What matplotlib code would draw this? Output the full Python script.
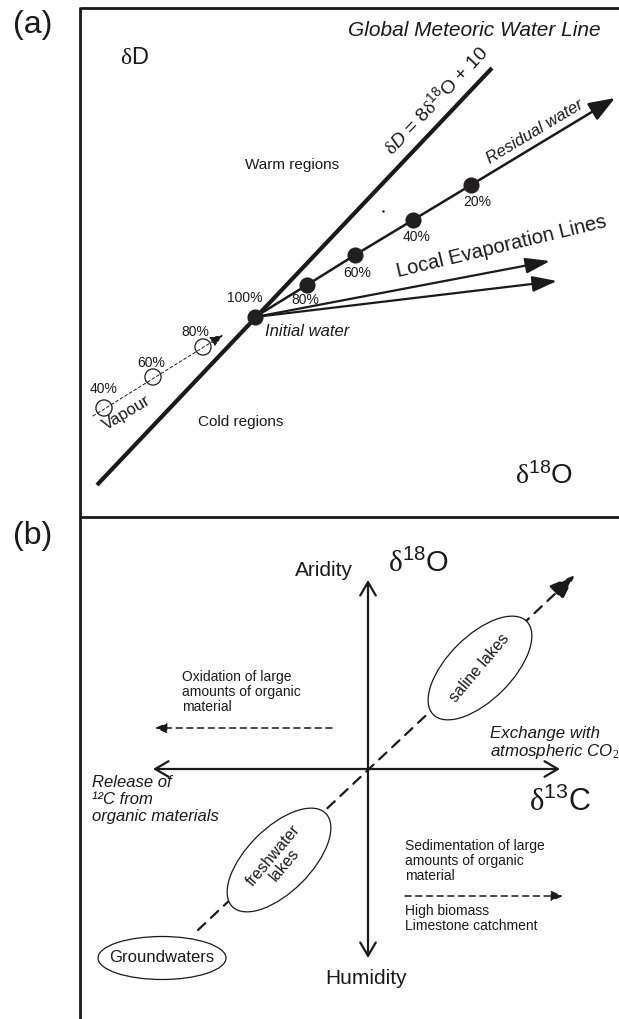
import matplotlib
matplotlib.use("Agg")
import matplotlib.pyplot as plt
from matplotlib.patches import Ellipse

plt.rcParams['font.family'] = ['Liberation Sans', 'DejaVu Sans']
plt.rcParams['mathtext.fontset'] = 'custom'
plt.rcParams['mathtext.rm'] = 'Liberation Serif'
plt.rcParams['mathtext.sf'] = 'Liberation Sans'
plt.rcParams['mathtext.it'] = 'Liberation Sans:italic'
plt.rcParams['mathtext.bf'] = 'Liberation Sans:bold'

# ---------------- Panel (a) data (schematic coordinates) ----------------
gmwl_x = [97, 492]
gmwl_y = [485, 68]
residual_x = [255, 307, 355, 413, 471]
residual_y = [317, 285, 255, 220, 185]
residual_labels = ['100%', '80%', '60%', '40%', '20%']
residual_tip = [615, 98]
evap_tips_x = [550, 557]
evap_tips_y = [261, 281]
vapour_x = [203, 153, 104]
vapour_y = [347, 377, 408]
vapour_labels = ['80%', '60%', '40%']
vapour_start = [93, 416]
vapour_tip = [223, 335]

# ---------------- Panel (b) data ----------------
center_b = [368, 769]
vert_ends = [580, 958]
horiz_ends = [153, 560]
diag_start = [198, 930]
diag_tip = [575, 575]

INK = '#1a1a1a'
DOT = '#231f20'

fig = plt.figure(figsize=(6.19, 10.19), dpi=100)
ax = fig.add_axes([0, 0, 1, 1])
ax.set_xlim(0, 619)
ax.set_ylim(1019, 0)
ax.axis('off')

# frame lines
ax.plot([80, 80], [7, 1019], color=INK, lw=2.0, solid_capstyle='butt')
ax.plot([80, 619], [7.5, 7.5], color=INK, lw=2.0, solid_capstyle='butt')
ax.plot([80, 619], [517, 517], color=INK, lw=2.0, solid_capstyle='butt')

ax.text(33, 25, '(a)', fontsize=23, ha='center', va='center', color=INK)
ax.text(33, 536, '(b)', fontsize=23, ha='center', va='center', color=INK)

# ---- panel (a) ----
ax.plot(gmwl_x, gmwl_y, color=INK, lw=3.0, solid_capstyle='butt', zorder=3)

ax.plot(residual_x, residual_y, color=INK, lw=1.8, zorder=3)
ax.annotate('', xy=residual_tip, xytext=(residual_x[-1], residual_y[-1]),
            arrowprops=dict(arrowstyle='-|>,head_length=0.8,head_width=0.3',
                            mutation_scale=20, lw=1.8, color=INK,
                            shrinkA=0, shrinkB=0), zorder=3)
for tx, ty in zip(evap_tips_x, evap_tips_y):
    ax.annotate('', xy=(tx, ty), xytext=(residual_x[0], residual_y[0]),
                arrowprops=dict(arrowstyle='-|>,head_length=0.75,head_width=0.24',
                                mutation_scale=20, lw=1.6, color=INK,
                                shrinkA=0, shrinkB=0), zorder=3)
ax.scatter(residual_x, residual_y, s=135, color=DOT, zorder=5, linewidths=0)

res_label_pos = [(245, 298), (305, 300), (357, 273), (417, 237), (477, 202)]
for lab, (lx, ly) in zip(residual_labels, res_label_pos):
    ax.text(lx, ly, lab, fontsize=10, ha='center', va='center', color=INK, zorder=6)

# vapour
ax.annotate('', xy=vapour_tip, xytext=vapour_start,
            arrowprops=dict(arrowstyle='-|>,head_length=0.5,head_width=0.2',
                            mutation_scale=16, lw=0.7, color=INK, linestyle=(0, (3, 2.5)),
                            shrinkA=0, shrinkB=0))
ax.scatter(vapour_x, vapour_y, s=135, facecolors='none', edgecolors=INK,
           linewidths=0.9, zorder=4)
vap_label_pos = [(195, 332), (151, 363), (104, 389)]
for lab, (lx, ly) in zip(vapour_labels, vap_label_pos):
    ax.text(lx, ly, lab, fontsize=10, ha='center', va='center', color=INK)

ax.text(135, 58, r'$\mathrm{\delta}$D', fontsize=17, ha='center', va='center', color=INK)
ax.text(474, 30, 'Global Meteoric Water Line', fontsize=15, style='italic',
        ha='center', va='center', color=INK)
ax.text(436, 100, r'$\mathrm{\delta}\mathit{D}$ = 8$\mathrm{\delta}^{\mathsf{18}}$O + 10',
        fontsize=14, rotation=46.5, ha='center', va='center', color=INK,
        rotation_mode='anchor')
ax.text(292, 165, 'Warm regions', fontsize=11, ha='center', va='center', color=INK)
ax.text(241, 422, 'Cold regions', fontsize=11, ha='center', va='center', color=INK)
ax.text(535, 132, 'Residual water', fontsize=12, style='italic', rotation=31,
        ha='center', va='center', color=INK, rotation_mode='anchor')
ax.text(501, 247, 'Local Evaporation Lines', fontsize=14.5, rotation=13.5,
        ha='center', va='center', color=INK, rotation_mode='anchor')
ax.text(307, 332, 'Initial water', fontsize=12, style='italic',
        ha='center', va='center', color=INK)
ax.text(127, 413, 'Vapour', fontsize=12, rotation=31, ha='center', va='center',
        color=INK, rotation_mode='anchor')
ax.text(544, 476, r'$\mathrm{\delta}^{\mathsf{18}}$O', fontsize=20, ha='center',
        va='center', color=INK)
ax.plot([383], [211], marker='.', ms=1.5, color=INK)

# ---- panel (b) ----
ax.annotate('', xy=(center_b[0], vert_ends[0]), xytext=(center_b[0], vert_ends[1]),
            arrowprops=dict(arrowstyle='<->,head_length=0.6,head_width=0.35',
                            mutation_scale=16, lw=1.6, color=INK,
                            shrinkA=0, shrinkB=0))
ax.annotate('', xy=(horiz_ends[1], center_b[1]), xytext=(horiz_ends[0], center_b[1]),
            arrowprops=dict(arrowstyle='<->,head_length=0.6,head_width=0.35',
                            mutation_scale=16, lw=1.6, color=INK,
                            shrinkA=0, shrinkB=0))
ax.annotate('', xy=diag_tip, xytext=diag_start,
            arrowprops=dict(arrowstyle='-|>,head_length=0.8,head_width=0.3',
                            mutation_scale=20, lw=1.6, color=INK,
                            linestyle=(0, (4.5, 3.5)), shrinkA=0, shrinkB=0),
            zorder=2)

ell_kw = dict(facecolor='white', edgecolor=INK, lw=0.9, zorder=4)
ax.add_patch(Ellipse((480, 668), 132, 64, angle=-45, **ell_kw))
ax.add_patch(Ellipse((279, 860), 132, 64, angle=-45, **ell_kw))
ax.add_patch(Ellipse((162, 958), 128, 43, angle=0, **ell_kw))
ax.text(480, 668, 'saline lakes', fontsize=11.5, rotation=50, ha='center',
        va='center', color=INK, zorder=5, rotation_mode='anchor')
ax.text(279, 860, 'freshwater\nlakes', fontsize=11.5, rotation=50, ha='center',
        va='center', color=INK, zorder=5, linespacing=1.0, rotation_mode='anchor')
ax.text(162, 958, 'Groundwaters', fontsize=12, ha='center', va='center',
        color=INK, zorder=5)

ax.text(324, 570, 'Aridity', fontsize=15, ha='center', va='center', color=INK)
ax.text(418, 563, r'$\mathrm{\delta}^{\mathsf{18}}$O', fontsize=21, ha='center',
        va='center', color=INK)
ax.text(366, 978, 'Humidity', fontsize=15, ha='center', va='center', color=INK)
ax.text(560, 802, r'$\mathrm{\delta}^{\mathsf{13}}$C', fontsize=22, ha='center',
        va='center', color=INK)

ax.text(182, 670, 'Oxidation of large\namounts of organic\nmaterial', fontsize=10,
        ha='left', va='top', color=INK, linespacing=1.1)
ax.annotate('', xy=(155, 728), xytext=(332, 728),
            arrowprops=dict(arrowstyle='-|>,head_length=0.5,head_width=0.22',
                            mutation_scale=14, lw=1.1, color=INK,
                            linestyle=(0, (4, 3)), shrinkA=0, shrinkB=0))
ax.text(490, 726, 'Exchange with\natmospheric CO$_{\\mathit{2}}$', fontsize=12.2,
        style='italic', ha='left', va='top', color=INK, linespacing=1.05)
ax.text(92, 775, 'Release of\n\u00b9\u00b2C from\norganic materials', fontsize=12,
        style='italic', ha='left', va='top', color=INK, linespacing=1.15)
ax.text(405, 839, 'Sedimentation of large\namounts of organic\nmaterial', fontsize=10,
        ha='left', va='top', color=INK, linespacing=1.1)
ax.annotate('', xy=(563, 896), xytext=(405, 896),
            arrowprops=dict(arrowstyle='-|>,head_length=0.5,head_width=0.22',
                            mutation_scale=14, lw=1.1, color=INK,
                            linestyle=(0, (4, 3)), shrinkA=0, shrinkB=0))
ax.text(405, 904, 'High biomass\nLimestone catchment', fontsize=10,
        ha='left', va='top', color=INK, linespacing=1.1)

fig.savefig('out.png', dpi=100)
